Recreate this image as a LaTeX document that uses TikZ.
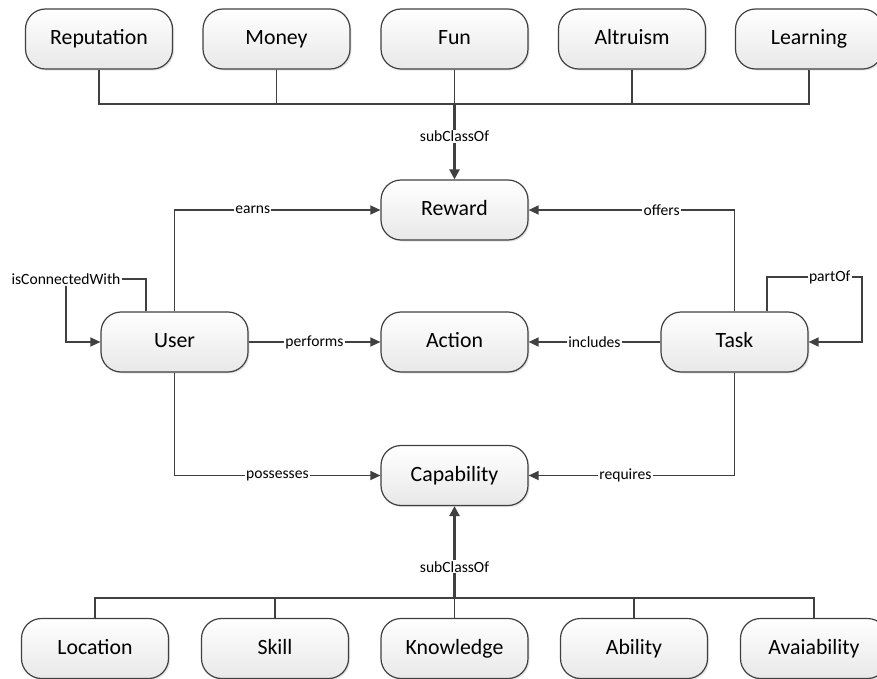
\documentclass[tikz,border=0pt]{standalone}
\usepackage{fontspec}
\setmainfont{Carlito}
\usetikzlibrary{arrows.meta,shadows}
\definecolor{linegray}{HTML}{404040}

\begin{document}
\begin{tikzpicture}[x=0.5pt,y=-0.5pt]

	\tikzstyle concept=[draw=linegray, line width=0.6pt, rounded corners=10pt, minimum width=73.5pt, minimum height=30pt, text height=1.6ex, text depth=0.4ex, top color=white, bottom color=black!9, drop shadow={opacity=0.2, shadow xshift=0.8pt, shadow yshift=-0.8pt}, font=\fontsize{10.9}{12}\selectfont];
	\tikzstyle plain lines=[draw=linegray, line width=0.7pt];
	\tikzstyle relation lines=[draw=linegray, line width=0.7pt, -{Triangle[length=5pt,width=4.5pt]}];
	\tikzstyle subclass lines=[draw=linegray, line width=1.2pt, -{Triangle[length=5pt,width=5pt]}];
	\tikzstyle relation label=[fill=white, inner sep=0.6pt, font=\fontsize{7.8}{9}\selectfont];

	\useasboundingbox (0,0) rectangle (877,679);

	% motivations
	\node[concept] (reputation) at (99,39) {Reputation};
	\node[concept] (money) at (276.5,39) {Money};
	\node[concept] (fun) at (454.5,39) {Fun};
	\node[concept] (altruism) at (632,39) {Altruism};
	\node[concept] (learning) at (809,39) {Learning};

	% core classes
	\node[concept] (reward) at (454.5,210) {Reward};
	\node[concept] (user) at (174.5,342) {User};
	\node[concept] (action) at (454.5,342) {Action};
	\node[concept] (task) at (734.5,342) {Task};
	\node[concept] (capability) at (454.5,475.5) {Capability};

	% capabilities
	\node[concept] (location) at (95,648.5) {Location};
	\node[concept] (skill) at (275,648.5) {Skill};
	\node[concept] (knowledge) at (454.5,648.5) {Knowledge};
	\node[concept] (ability) at (634,648.5) {Ability};
	\node[concept] (avaiability) at (814,648.5) {Avaiability};

	\coordinate (top bus) at (454.5,104);
	\draw[plain lines] (reputation.south) |- (top bus) -| (learning.south);
	\draw[plain lines] (money.south) -- (money.south |- top bus);
	\draw[plain lines] (fun.south) -- (top bus);
	\draw[plain lines] (altruism.south) -- (altruism.south |- top bus);
	\draw[subclass lines] (top bus) -- node[relation label, pos=0.43] {subClassOf} (reward.north);

	\coordinate (bottom bus) at (454.5,598);
	\draw[plain lines] (location.north) |- (bottom bus) -| (avaiability.north);
	\draw[plain lines] (skill.north) -- (skill.north |- bottom bus);
	\draw[plain lines] (knowledge.north) -- (bottom bus);
	\draw[plain lines] (ability.north) -- (ability.north |- bottom bus);
	\draw[subclass lines] (bottom bus) -- node[relation label, pos=0.34] {subClassOf} (capability.south);

	\draw[relation lines] (user.north) |- node[relation label, pos=0.69] {earns} (reward.west);
	\draw[relation lines] (task.north) |- node[relation label, pos=0.677] {offers} (reward.east);
	\draw[relation lines] (user.east) -- node[relation label] {performs} (action.west);
	\draw[relation lines] (task.west) -- node[relation label] {includes} (action.east);
	\draw[relation lines] (user.south) |- node[relation label, pos=0.75] {possesses} (capability.west);
	\draw[relation lines] (task.south) |- node[relation label, pos=0.765] {requires} (capability.east);

	% self loops
	\coordinate (connect corner) at (66,279);
	\draw[relation lines] ([xshift=-14.25pt]user.north) |- (connect corner) node[relation label] {isConnectedWith} |- (user.west);
	\coordinate (part corner) at (862,277);
	\draw[relation lines] ([xshift=16.25pt]task.north) |- node[relation label, pos=0.83] {partOf} (part corner) |- (task.east);

\end{tikzpicture}
\end{document}
